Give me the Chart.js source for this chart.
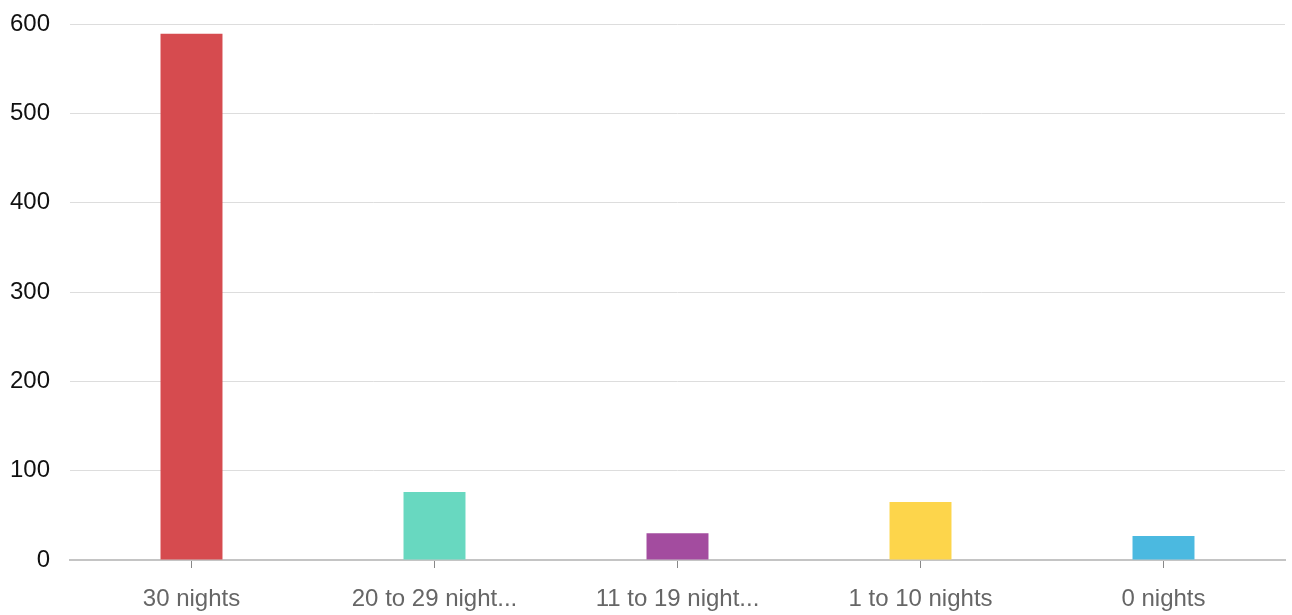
<!DOCTYPE html>
<html>
<head>
<meta charset="utf-8">
<script src="https://cdn.jsdelivr.net/npm/chart.js@4"></script>
<style>
  html, body { margin: 0; padding: 0; background: #fff; }
  #wrap { width: 1292px; height: 615px; }
</style>
</head>
<body>
<div id="wrap"><canvas id="nights-chart"></canvas></div>
<script>
const categories = ['30 nights', '20 to 29 night...', '11 to 19 night...', '1 to 10 nights', '0 nights'];
const counts = [589, 76, 30, 65, 27];
const barColors = ['#d64b4f', '#68d8c0', '#a34c9f', '#fdd54b', '#4bb9e0'];
const yTicks = [0, 100, 200, 300, 400, 500, 600];

const FONT = '"Liberation Sans", Arial, sans-serif';

function setupChart() {
    const ctx = document.getElementById('nights-chart').getContext('2d');
    const config = {
        type: 'bar',
        data: {
            labels: categories,
            datasets: [{
                label: 'Responses',
                data: counts,
                backgroundColor: barColors,
                borderWidth: 0,
                categoryPercentage: 1,
                barPercentage: 0.255
            }]
        },
        options: {
            responsive: true,
            maintainAspectRatio: false,
            animation: false,
            layout: { padding: { top: 24, right: 7, left: 0, bottom: 0 } },
            plugins: {
                legend: { display: false },
                tooltip: { enabled: false }
            },
            scales: {
                x: {
                    grid: { offset: false, drawOnChartArea: false, drawTicks: true, tickLength: 8, color: '#888' },
                    border: { color: '#c4c4c4', width: 2 },
                    ticks: { color: '#666', padding: 17, font: { family: FONT, size: 24 }, maxRotation: 0, autoSkip: false },
                    afterFit: s => { s.height = 55; }
                },
                y: {
                    min: 0,
                    max: 600,
                    afterBuildTicks: s => { s.ticks = yTicks.map(v => ({ value: v })); },
                    grid: { color: '#dddddd', drawTicks: false },
                    border: { display: false },
                    ticks: { color: '#111', padding: 20, font: { family: FONT, size: 24 } },
                    afterFit: s => { s.width = 70; s.paddingTop = 0; s.paddingBottom = 0; }
                }
            }
        }
    };
    return new Chart(ctx, config);
}

setupChart();
</script>
</body>
</html>
